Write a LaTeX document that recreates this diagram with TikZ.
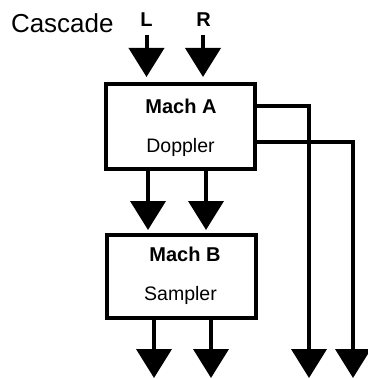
\documentclass[tikz,border=0pt]{standalone}
\usepackage{fontspec}
\setmainfont{Liberation Sans}
\usetikzlibrary{arrows.meta,positioning}

\begin{document}
\begin{tikzpicture}[x=1pt,y=-1pt
	,>={Triangle[width=35pt,length=29pt]}
	,line width=4pt]
  \tikzstyle{mach}=[draw,minimum width=149pt,minimum height=85pt,inner sep=0pt]
  \tikzstyle{machname}=[inner sep=0pt,anchor=base,font=\fontsize{20}{24}\selectfont\bfseries]
  \tikzstyle{machkind}=[inner sep=0pt,anchor=base,font=\fontsize{19.5}{24}\selectfont]
  \useasboundingbox (0,0) rectangle (367,379);

  % title
  \node[inner sep=0pt,anchor=base west,font=\fontsize{26}{30}\selectfont]
    (cascade) at (9,32.3) {Cascade};
  \node[machname] (chL) at (146.5,26.7) {L};
  \node[machname] (chR) at (203.5,26.7) {R};

  % machines
  \node[mach] (machA) at (180.5,126.5) {};
  \node[machname] (nameA) at (181,114) {Mach A};
  \node[machkind] (kindA) at (180.5,152.7) {Doppler};

  \node[mach,minimum height=83pt] (machB) at (181,276.5) {};
  \node[machname] (nameB) at (185,261.7) {Mach B};
  \node[machkind] (kindB) at (180.5,300) {Sampler};

  % free ends
  \coordinate (inL)   at (146.5,35);
  \coordinate (inR)   at (203,35);
  \coordinate (outB1) at (154,378);
  \coordinate (outB2) at (211,378);
  \coordinate (outA1) at (309,378);
  \coordinate (outA2) at (353,378);

  % into A
  \path [->] (inL) edge [shorten >=5pt] (inL |- machA.north);
  \path [->] (inR) edge [shorten >=5pt] (inR |- machA.north);
  % A to B
  \path [->] (148,0 |- machA.south) edge [shorten >=3pt] (148,0 |- machB.north);
  \path [->] (206,0 |- machA.south) edge [shorten >=3pt] (206,0 |- machB.north);
  % out of B
  \path [->] (outB1 |- machB.south) edge (outB1);
  \path [->] (outB2 |- machB.south) edge (outB2);
  % straight out of A
  \draw [->] (machA.east |- 0,106) -| (outA1);
  \draw [->] (machA.east |- 0,142) -| (outA2);
\end{tikzpicture}
\end{document}
